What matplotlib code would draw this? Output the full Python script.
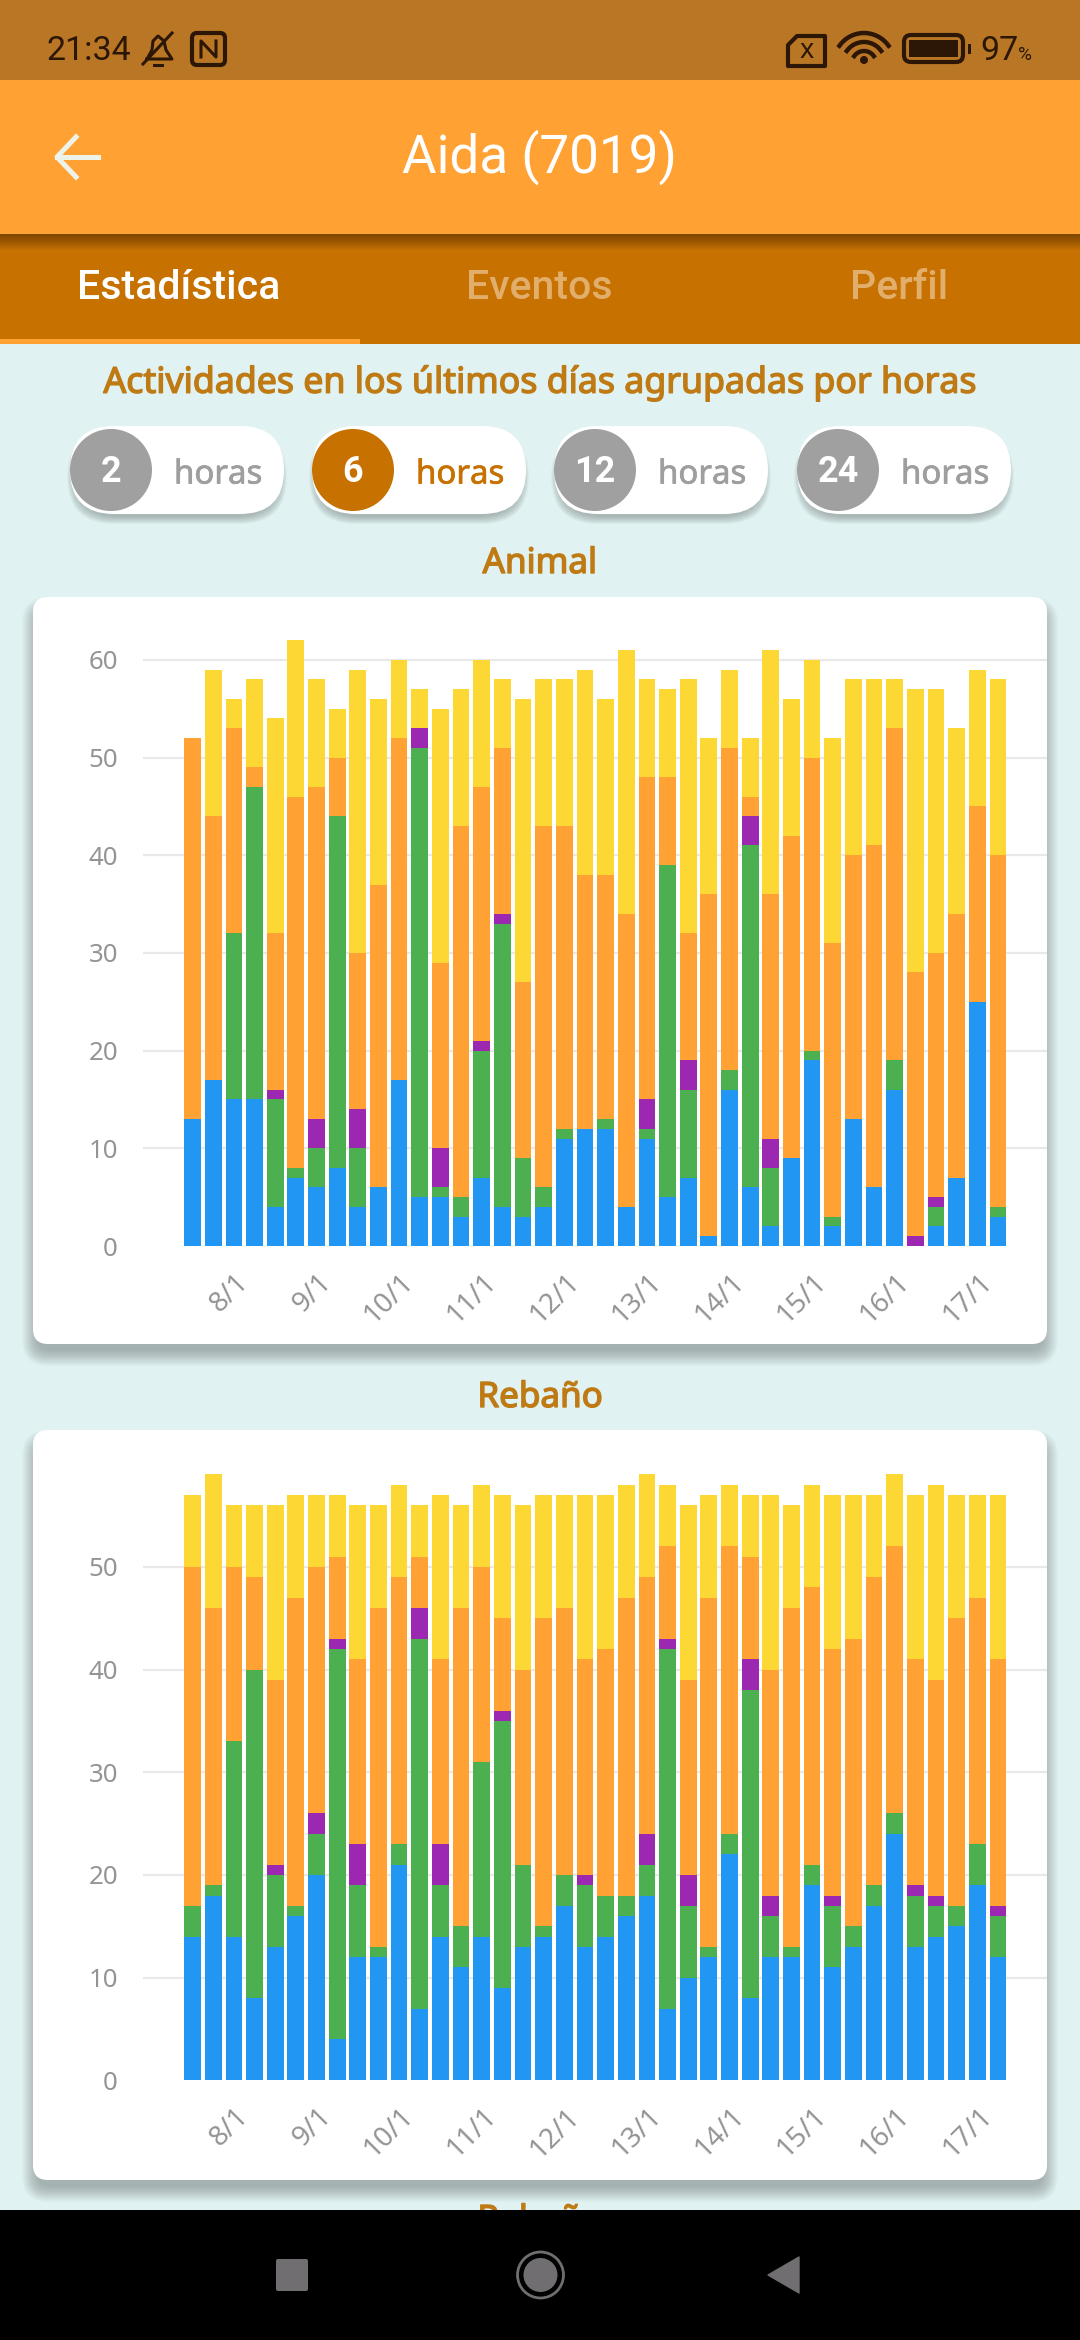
import matplotlib
matplotlib.use("Agg")
import matplotlib.pyplot as plt
import matplotlib.patheffects as pe
import numpy as np
from matplotlib.patches import Circle, Ellipse, FancyBboxPatch, Polygon, Rectangle
from matplotlib.transforms import ScaledTranslation

plt.rcParams["font.family"] = ["Noto Sans", "DejaVu Sans"]

# stack order bottom to top: blue, green, purple, orange, yellow
ANIMAL_BLUE = [13, 17, 15, 15, 4, 7, 6, 8, 4, 6, 17, 5, 5, 3, 7, 4, 3, 4, 11, 12,
               12, 4, 11, 5, 7, 1, 16, 6, 2, 9, 19, 2, 13, 6, 16, 0, 2, 7, 25, 3]
ANIMAL_GREEN = [0, 0, 17, 32, 11, 1, 4, 36, 6, 0, 0, 46, 1, 2, 13, 29, 6, 2, 1, 0,
                1, 0, 1, 34, 9, 0, 2, 35, 6, 0, 1, 1, 0, 0, 3, 0, 2, 0, 0, 1]
ANIMAL_PURPLE = [0, 0, 0, 0, 1, 0, 3, 0, 4, 0, 0, 2, 4, 0, 1, 1, 0, 0, 0, 0,
                 0, 0, 3, 0, 3, 0, 0, 3, 3, 0, 0, 0, 0, 0, 0, 1, 1, 0, 0, 0]
ANIMAL_ORANGE = [39, 27, 21, 2, 16, 38, 34, 6, 16, 31, 35, 0, 19, 38, 26, 17, 18, 37, 31, 26,
                 25, 30, 33, 9, 13, 35, 33, 2, 25, 33, 30, 28, 27, 35, 34, 27, 25, 27, 20, 36]
ANIMAL_YELLOW = [0, 15, 3, 9, 22, 16, 11, 5, 29, 19, 8, 4, 26, 14, 13, 7, 29, 15, 15, 21,
                 18, 27, 10, 9, 26, 16, 8, 6, 25, 14, 10, 21, 18, 17, 5, 29, 27, 19, 14, 18]

REBANO_BLUE = [14, 18, 14, 8, 13, 16, 20, 4, 12, 12, 21, 7, 14, 11, 14, 9, 13, 14, 17, 13,
               14, 16, 18, 7, 10, 12, 22, 8, 12, 12, 19, 11, 13, 17, 24, 13, 14, 15, 19, 12]
REBANO_GREEN = [3, 1, 19, 32, 7, 1, 4, 38, 7, 1, 2, 36, 5, 4, 17, 26, 8, 1, 3, 6,
                4, 2, 3, 35, 7, 1, 2, 30, 4, 1, 2, 6, 2, 2, 2, 5, 3, 2, 4, 4]
REBANO_PURPLE = [0, 0, 0, 0, 1, 0, 2, 1, 4, 0, 0, 3, 4, 0, 0, 1, 0, 0, 0, 1,
                 0, 0, 3, 1, 3, 0, 0, 3, 2, 0, 0, 1, 0, 0, 0, 1, 1, 0, 0, 1]
REBANO_ORANGE = [33, 27, 17, 9, 18, 30, 24, 8, 18, 33, 26, 5, 18, 31, 19, 9, 19, 30, 26, 21,
                 24, 29, 25, 9, 19, 34, 28, 10, 22, 33, 27, 24, 28, 30, 26, 22, 21, 28, 24, 24]
REBANO_YELLOW = [7, 13, 6, 7, 17, 10, 7, 6, 15, 10, 9, 5, 16, 10, 8, 12, 16, 12, 11, 16,
                 15, 11, 10, 6, 17, 10, 6, 6, 17, 10, 10, 15, 14, 8, 7, 16, 19, 12, 10, 16]

DAY_LABELS = ["8/1", "9/1", "10/1", "11/1", "12/1", "13/1", "14/1", "15/1", "16/1", "17/1"]
ANIMAL_TICKS = [0, 10, 20, 30, 40, 50, 60]
REBANO_TICKS = [0, 10, 20, 30, 40, 50]

BAR_COLORS = ["#2196f3", "#4caf50", "#9c27b0", "#ffa133", "#fdd835"]
DARK_ORANGE = "#c67100"
ORANGE = "#ffa133"
HEADING = "#bf7a14"
ICON = "#2c1706"
W, H = 1080, 2340


def px(size):
    return size * 0.72


def heavy(text, width=1.0):
    # Noto Sans only ships one weight here, so thicken it with a stroke
    text.set_path_effects([pe.withStroke(linewidth=width, foreground=text.get_color())])
    return text


def shadow(ax, x, y, w, h, radius, steps=14, spread=16, drop=11, alpha=0.02):
    for i in range(steps):
        grow = spread * (1 - i / steps) - 5
        ax.add_patch(FancyBboxPatch((x - grow, y - grow + drop), w + 2 * grow, h + 2 * grow,
                                    boxstyle=f"round,pad=0,rounding_size={radius + max(grow, 0)}",
                                    fc="black", ec="none", alpha=alpha, zorder=2))


def draw_chrome(bg):
    bg.add_patch(Rectangle((0, 0), W, H, fc="#e0f2f1", ec="none", zorder=0))
    # tab bar + shadow of the app bar on it
    bg.add_patch(Rectangle((0, 234), W, 110, fc=DARK_ORANGE, ec="none", zorder=1))
    for i in range(16):
        bg.add_patch(Rectangle((0, 234), W, 16 - i, fc="black", ec="none", alpha=0.025, zorder=1.1))
    bg.add_patch(Rectangle((0, 339), 360, 5, fc=ORANGE, ec="none", zorder=1.2))
    bg.add_patch(Rectangle((0, 0), W, 80, fc="#b97726", ec="none", zorder=1.3))
    bg.add_patch(Rectangle((0, 80), W, 154, fc=ORANGE, ec="none", zorder=1.3))

    # status bar
    bg.text(47, 51, "21:34", color=ICON, fontsize=px(34), family="Roboto", va="center", zorder=4)
    bell = [(147, 59), (152, 50), (153, 41), (158, 36), (164, 41), (166, 50), (172, 59)]
    bg.plot(*zip(*bell, (147, 59)), color=ICON, lw=2.2, zorder=4)
    bg.plot([154, 162], [65, 65], color=ICON, lw=2.2, zorder=4)
    bg.plot([143, 172], [64, 33], color=ICON, lw=2.2, zorder=4)
    bg.add_patch(FancyBboxPatch((192, 33), 33, 32, boxstyle="round,pad=0,rounding_size=5",
                                fc="none", ec=ICON, lw=3, zorder=4))
    bg.plot([201, 201, 216, 216], [57, 41, 57, 41], color=ICON, lw=2.2, zorder=4)
    bg.add_patch(Polygon([(797, 36), (825, 36), (825, 66), (788, 66), (788, 45)], closed=True,
                         fc="none", ec=ICON, lw=3, joinstyle="round", zorder=4))
    bg.text(807, 51, "x", color=ICON, fontsize=px(27), fontweight="bold", ha="center", va="center", zorder=4)
    for r in (30, 21, 12):
        t = np.radians(np.linspace(215, 325, 20))
        bg.plot(864 + r * np.cos(t), 63 + r * np.sin(t), color=ICON, lw=3.2, zorder=4)
    bg.add_patch(Circle((864, 60), 4, fc=ICON, ec="none", zorder=4))
    bg.add_patch(FancyBboxPatch((904, 35), 59, 27, boxstyle="round,pad=0,rounding_size=7",
                                fc="none", ec=ICON, lw=3, zorder=4))
    bg.add_patch(Rectangle((909, 40), 49, 17, fc=ICON, ec="none", zorder=4))
    bg.add_patch(Rectangle((968, 44), 3, 10, fc=ICON, ec="none", zorder=4))
    bg.text(980, 51, "97", color=ICON, fontsize=px(34), family="Roboto", va="center", zorder=4)
    bg.text(1018, 55, "%", color=ICON, fontsize=px(19), family="Roboto", va="center", zorder=4)

    # app bar
    bg.plot([98, 57], [157, 157], color="#eef3ea", lw=3.6, zorder=4)
    bg.plot([76, 57, 76], [137, 157, 177], color="#eef3ea", lw=3.6, zorder=4)
    bg.text(540, 157, "Aida (7019)", color="white", fontsize=px(53), family="Roboto",
            ha="center", va="center", zorder=4)

    # tabs
    for x, name, color in ((179, "Estadística", "white"), (539, "Eventos", "#e2ae6c"), (899, "Perfil", "#e2ae6c")):
        bg.text(x, 288, name, color=color, fontsize=px(41), family="Roboto",
                fontweight="medium", ha="center", va="center", zorder=4)

    heavy(bg.text(540, 383, "Actividades en los últimos días agrupadas por horas", color=HEADING,
                  fontsize=px(35.7), ha="center", va="center", zorder=4))

    # hour pills
    for left, num, on in zip((70, 312, 554, 797), ("2", "6", "12", "24"), (False, True, False, False)):
        shadow(bg, left, 426, 214, 88, 44, steps=8, spread=8, drop=7, alpha=0.03)
        bg.add_patch(FancyBboxPatch((left, 426), 214, 88, boxstyle="round,pad=0,rounding_size=44",
                                    fc="white", ec="none", zorder=3))
        bg.add_patch(Ellipse((left + 41, 470), 82, 82, fc=DARK_ORANGE if on else "#a0a0a1", ec="none", zorder=3.5))
        bg.text(left + 41, 472, num, color="white", fontsize=px(36), fontweight="bold",
                family="Roboto", ha="center", va="center", zorder=4)
        heavy(bg.text(left + 148, 475, "horas", color=DARK_ORANGE if on else "#9e9e9e", fontsize=px(33),
                      ha="center", va="center", zorder=4), 0.5)

    # section titles and cards
    for y, name in ((564, "Animal"), (1398, "Rebaño"), (2221, "Rebaño")):
        heavy(bg.text(540, y, name, color=HEADING, fontsize=px(35), ha="center", va="center", zorder=4))
    for top, bottom in ((597, 1344), (1430, 2180)):
        shadow(bg, 33, top, 1014, bottom - top, 15)
        bg.add_patch(FancyBboxPatch((33, top), 1014, bottom - top, boxstyle="round,pad=0,rounding_size=15",
                                    fc="white", ec="none", zorder=3))

    # navigation bar
    bg.add_patch(Rectangle((0, 2210), W, 130, fc="black", ec="none", zorder=5))
    bg.add_patch(FancyBboxPatch((276, 2259), 32, 32, boxstyle="round,pad=0,rounding_size=2",
                                fc="#706e71", ec="none", zorder=6))
    bg.add_patch(Circle((540.5, 2275), 17, fc="#706e71", ec="none", zorder=6))
    bg.add_patch(Circle((540.5, 2275), 23, fc="none", ec="#706e71", lw=2, zorder=6))
    bg.add_patch(Polygon([(799, 2257), (799, 2293), (768, 2275)], closed=True, fc="#706e71",
                         ec="#706e71", lw=1, joinstyle="round", zorder=6))


def draw_chart(fig, zero_px, unit_px, y_top, ticks, series):
    left, right = 143, 1047
    ax = fig.add_axes([left / W, 1 - zero_px / H, (right - left) / W, y_top * unit_px / H], zorder=2)
    ax.patch.set_alpha(0)
    pitch = 20.65
    ax.set_xlim((left - 192.6) / pitch, (right - 192.6) / pitch)
    ax.set_ylim(0, y_top)

    x = np.arange(len(series[0]))
    bottom = np.zeros(len(x))
    for values, color in zip(series, BAR_COLORS):
        values = np.array(values)
        ax.bar(x, values, 0.81, bottom=bottom, color=color, linewidth=0, zorder=3)
        bottom += values

    for spine in ax.spines.values():
        spine.set_visible(False)
    ax.set_yticks(ticks)
    ax.tick_params(axis="y", length=0, pad=18, labelsize=18.6, labelcolor="#949494")
    ax.yaxis.grid(True, color="#e9e9ec", lw=1.6, zorder=0)
    ax.yaxis.get_gridlines()[0].set_visible(False)
    ax.set_xticks(x[2::4])
    ax.set_xticklabels(DAY_LABELS, rotation=45, ha="right", va="top", rotation_mode="anchor",
                       fontsize=20, color="#949494")
    ax.tick_params(axis="x", length=0, pad=16)
    offset = ScaledTranslation(1 / 100, 0, fig.dpi_scale_trans)
    for label in ax.get_xticklabels():
        label.set_transform(label.get_transform() + offset)
    return ax


fig = plt.figure(figsize=(W / 100, H / 100), dpi=100)
bg = fig.add_axes([0, 0, 1, 1], zorder=0)
bg.set_xlim(0, W)
bg.set_ylim(H, 0)
bg.axis("off")
draw_chrome(bg)

draw_chart(fig, 1246, 9.77, 64, ANIMAL_TICKS,
           [ANIMAL_BLUE, ANIMAL_GREEN, ANIMAL_PURPLE, ANIMAL_ORANGE, ANIMAL_YELLOW])
draw_chart(fig, 2080.4, 10.27, 61, REBANO_TICKS,
           [REBANO_BLUE, REBANO_GREEN, REBANO_PURPLE, REBANO_ORANGE, REBANO_YELLOW])

fig.savefig("out.png", dpi=100)
plt.close(fig)
